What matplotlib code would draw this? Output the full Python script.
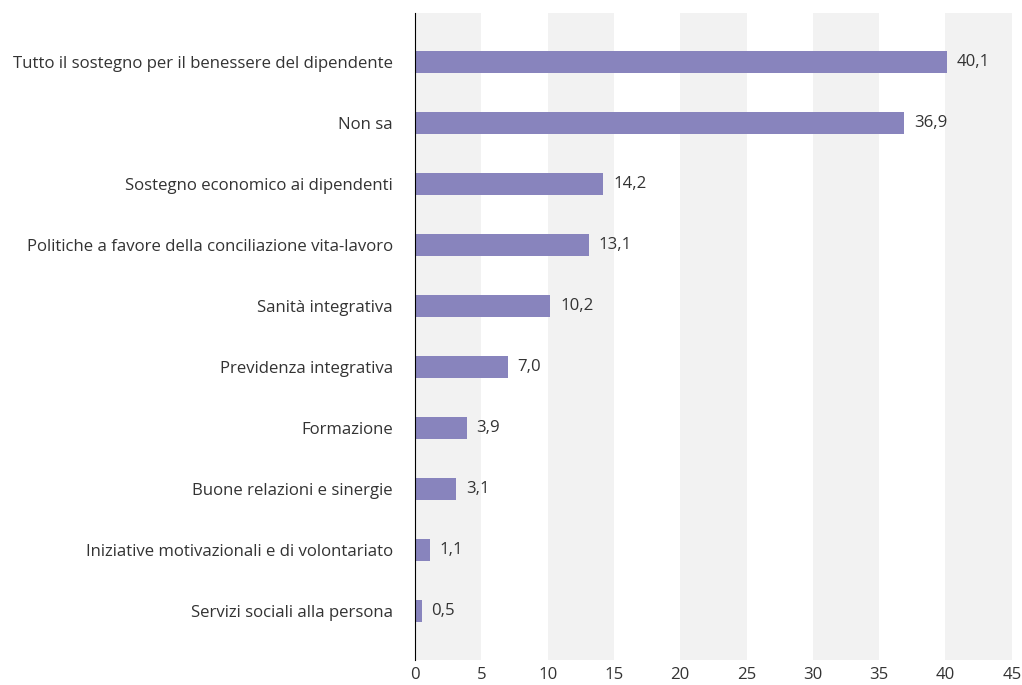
import matplotlib
matplotlib.use("Agg")
import matplotlib.pyplot as plt

categories = [
    "Tutto il sostegno per il benessere del dipendente",
    "Non sa",
    "Sostegno economico ai dipendenti",
    "Politiche a favore della conciliazione vita-lavoro",
    "Sanità integrativa",
    "Previdenza integrativa",
    "Formazione",
    "Buone relazioni e sinergie",
    "Iniziative motivazionali e di volontariato",
    "Servizi sociali alla persona",
]
values = [40.1, 36.9, 14.2, 13.1, 10.2, 7.0, 3.9, 3.1, 1.1, 0.5]
x_ticks = [0, 5, 10, 15, 20, 25, 30, 35, 40, 45]

plt.rcParams["font.family"] = ["Open Sans", "DejaVu Sans"]
text_color = "#333333"
bar_color = "#8884bd"
fs = 12.1

fig = plt.figure(figsize=(10.22, 6.85), dpi=100)
ax = fig.add_axes([0.406, 0.036, 0.584, 0.945])

# alternating background bands
for i, start in enumerate(x_ticks[:-1]):
    if i % 2 == 0:
        ax.axvspan(start, start + 5, color="#f2f2f2", lw=0, zorder=0)

y = list(range(len(categories)))
ax.barh(y, values, height=0.36, color=bar_color, zorder=2)

for yi, v in zip(y, values):
    ax.text(v + 0.75, yi, f"{v:.1f}".replace(".", ","), va="center", ha="left",
            fontsize=fs, color=text_color)

ax.set_xlim(0, 45)
ax.set_ylim(len(categories) - 0.2, -0.8)
ax.set_yticks(y)
ax.set_yticklabels(categories, fontsize=fs, color=text_color)
ax.set_xticks(x_ticks)
ax.set_xticklabels([str(t) for t in x_ticks], fontsize=fs, color=text_color)
ax.tick_params(axis="both", length=0)
ax.tick_params(axis="y", pad=16)
ax.tick_params(axis="x", pad=5)

for side in ["top", "right", "bottom"]:
    ax.spines[side].set_visible(False)
ax.spines["left"].set_color("#000000")
ax.spines["left"].set_linewidth(0.8)
ax.spines["left"].set_zorder(3)

fig.savefig("out.png", dpi=100)
